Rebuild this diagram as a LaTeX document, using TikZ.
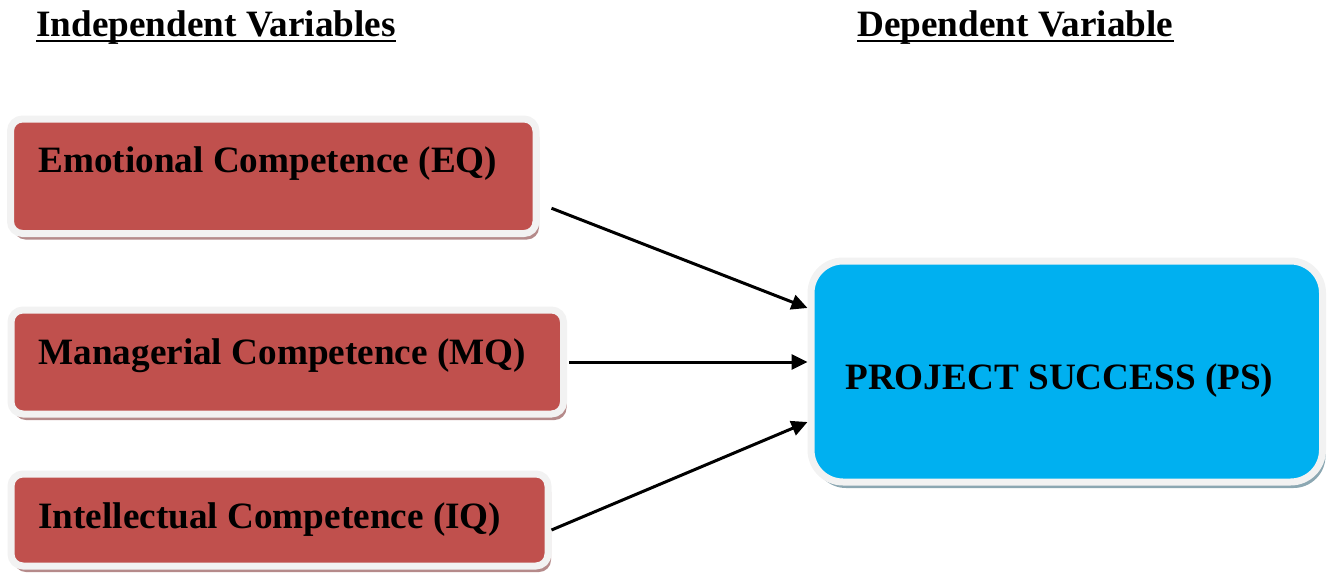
\documentclass[tikz,border=0pt]{standalone}
\usepackage{fontspec}
\setmainfont{Liberation Serif}
\usetikzlibrary{arrows.meta,calc,shadows}
\definecolor{boxred}{HTML}{C0504D}
\definecolor{boxblue}{HTML}{00B0F0}
\definecolor{rim}{HTML}{F2F2F2}
\definecolor{redshade}{HTML}{B58A8A}
\definecolor{blueshade}{HTML}{8BA7B2}
\tikzset{
  varbox/.style={draw=rim,line width=3.5pt,inner sep=0pt},
  redbox/.style={varbox,rounded corners=6pt,fill=boxred,
    drop shadow={shadow xshift=1.5pt,shadow yshift=-3pt,fill=redshade,opacity=1}},
  bluebox/.style={varbox,rounded corners=16pt,fill=boxblue,
    drop shadow={shadow xshift=1.5pt,shadow yshift=-3pt,fill=blueshade,opacity=1}},
  lbl/.style={anchor=base west,inner sep=0pt,font=\fontsize{18.6}{22}\selectfont\bfseries},
  uline/.style={line width=1.4pt},
  conn/.style={line width=1.5pt,-{Triangle[length=8pt,width=7.5pt]}}
}
\begin{document}
\begin{tikzpicture}[x=0.5pt,y=-0.5pt]
	\useasboundingbox (0,0) rectangle (1327,573);
	\node[lbl] (indep) at (36,36) {Independent Variables};
	\node[lbl] (dep) at (857,36) {Dependent Variable};
	\draw[uline] ([yshift=-2.5pt]indep.base west) -- ([yshift=-2.5pt]indep.base east);
	\draw[uline] ([yshift=-2.5pt]dep.base west) -- ([yshift=-2.5pt]dep.base east);
	\node[redbox,minimum width=262.75pt,minimum height=57.25pt] (eq) at (273.25,176.25) {};
	\node[redbox,minimum width=276.25pt,minimum height=52pt] (mq) at (287.25,362) {};
	\node[redbox,minimum width=268.5pt,minimum height=46pt] (iq) at (279.5,520) {};
	\node[bluebox,minimum width=255.75pt,minimum height=110.5pt] (ps) at (1066.75,371.5) {};
	\node[lbl] (eqtext) at (38,172) {Emotional Competence (EQ)};
	\node[lbl] (mqtext) at (38,364) {Managerial Competence (MQ)};
	\node[lbl] (iqtext) at (38,528) {Intellectual Competence (IQ)};
	\node[lbl] (pstext) at (845,389) {PROJECT SUCCESS (PS)};
	\draw[conn] ($(eq.east)+(12,32)$) -- ($(ps.west)+(0,-63.5)$);
	\draw[conn] ($(mq.east)+(2,0)$) -- ($(ps.west)+(0,-9.5)$);
	\draw[conn] ($(iq.east)+(0,10)$) -- ($(ps.west)+(0,50.5)$);
\end{tikzpicture}
\end{document}
